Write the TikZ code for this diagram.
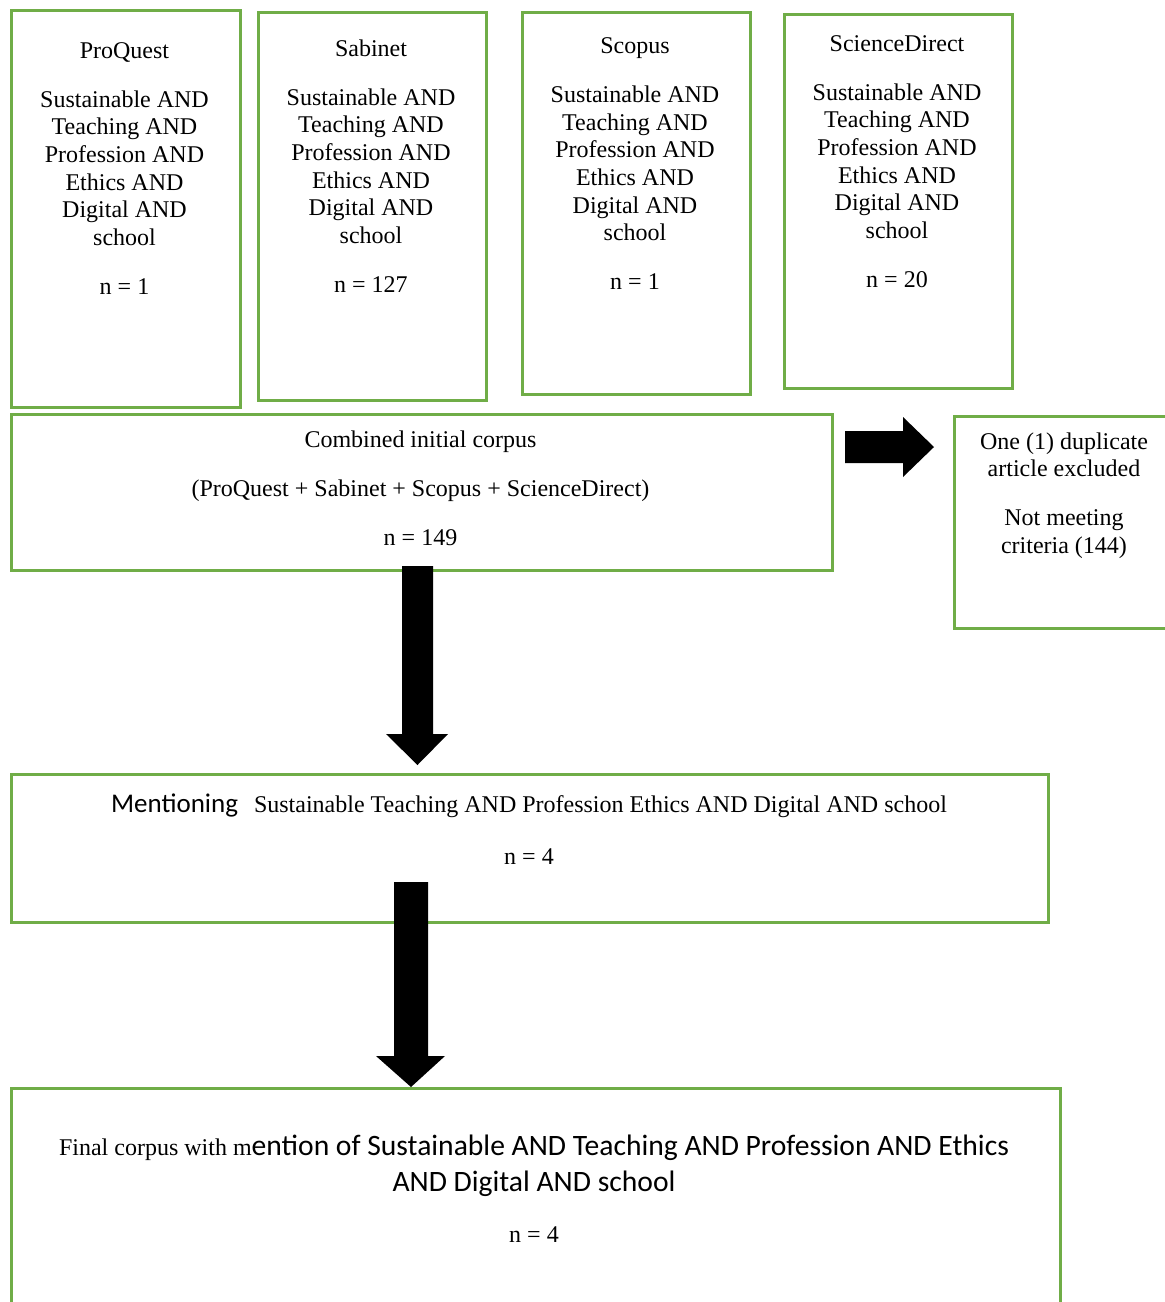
\documentclass[tikz,border=0pt]{standalone}
\usepackage{fontspec}
\setmainfont{Liberation Serif}
\newfontfamily\carlito{Carlito}
\definecolor{boxgreen}{HTML}{70AD47}
\begin{document}
\begin{tikzpicture}[x=0.5pt,y=-0.5pt,
  box/.style={draw=boxgreen, line width=1.3pt, inner sep=0pt, anchor=north west},
  txt/.style={font=\fontsize{12}{13.8}\selectfont, align=center, inner sep=0pt, anchor=north},
  blockarrow/.style={fill=black}
]
\useasboundingbox (0,0) rectangle (1165,1302);
\clip (0,0) rectangle (1165,1302);
% boxes
\node[box, minimum width=114.5pt, minimum height=198.5pt] (pq) at (10,9) {};
\node[box, minimum width=114pt, minimum height=194pt] (sb) at (257,11) {};
\node[box, minimum width=114pt, minimum height=191pt] (sc) at (521,11) {};
\node[box, minimum width=114pt, minimum height=187pt] (sd) at (783,13) {};
\node[box, minimum width=410.5pt, minimum height=78pt] (comb) at (10,413) {};
\node[box, minimum width=111pt, minimum height=106pt] (excl) at (953,415) {};
\node[box, minimum width=518.5pt, minimum height=74pt] (ment) at (10,773) {};
\node[box, minimum width=524.5pt, minimum height=130pt] (final) at (10,1087) {};
% texts
\node[txt] (pqt) at (124.5,38.5) {\strut ProQuest\\[10.7pt] Sustainable AND\\ Teaching AND\\ Profession AND\\ Ethics AND\\ Digital AND\\ school\\[10.7pt] n = 1};
\node[txt] (sbt) at (371,36.5) {\strut Sabinet\\[10.7pt] Sustainable AND\\ Teaching AND\\ Profession AND\\ Ethics AND\\ Digital AND\\ school\\[10.7pt] n = 127};
\node[txt] (sct) at (635,34) {\strut Scopus\\[10.7pt] Sustainable AND\\ Teaching AND\\ Profession AND\\ Ethics AND\\ Digital AND\\ school\\[10.7pt] n = 1};
\node[txt] (sdt) at (897,31.5) {\strut ScienceDirect\\[10.7pt] Sustainable AND\\ Teaching AND\\ Profession AND\\ Ethics AND\\ Digital AND\\ school\\[10.7pt] n = 20};
\node[txt] (combt) at (420.5,428) {\strut Combined initial corpus\\[10.7pt] (ProQuest + Sabinet + Scopus + ScienceDirect)\\[10.7pt] n = 149};
\node[txt] (exclt) at (1064,429.5) {\strut One (1) duplicate\\ article excluded\\[10.7pt] Not meeting\\ criteria (144)};
\node[txt] (mentt) at (529,792.5) {\strut{\carlito\fontsize{13.5}{16.5}\selectfont Mentioning}\hspace{8pt}Sustainable Teaching AND Profession Ethics AND Digital AND school\\[12.2pt] n = 4};
\node[txt] (finalt) at (534,1134.5) {\strut Final corpus with m{\carlito\fontsize{14.8}{17.5}\selectfont ention of Sustainable AND Teaching AND Profession AND Ethics}\\[2.7pt] {\carlito\fontsize{14.8}{17.5}\selectfont AND Digital AND school}\\[11.7pt] n = 4};
% block arrows
\fill[blockarrow] (845,431) -- (903,431) -- (903,417) -- (934,447) -- (903,477) -- (903,463) -- (845,463) -- cycle;
\fill[blockarrow] (402,566) -- (433,566) -- (433,734) -- (448,734) -- (417.5,765) -- (386,734) -- (402,734) -- cycle;
\fill[blockarrow] (394,882) -- (428,882) -- (428,1056) -- (445,1056) -- (411,1087) -- (376,1056) -- (394,1056) -- cycle;
\end{tikzpicture}
\end{document}
